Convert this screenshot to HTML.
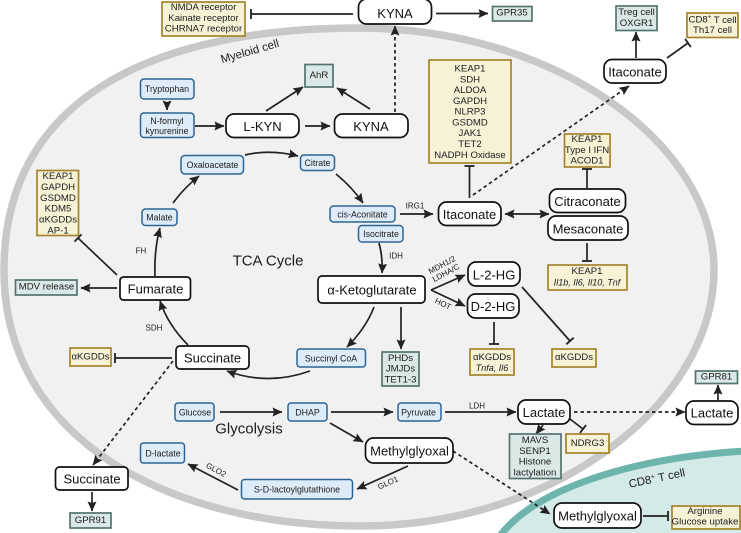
<!DOCTYPE html>
<html><head><meta charset="utf-8">
<style>
html,body{margin:0;padding:0;background:#fff}
svg{display:block}
text{font-family:"Liberation Sans",sans-serif;text-anchor:middle;dominant-baseline:central;fill:#1c1c1c}
.b{fill:#deebf8;stroke:#2b6596;stroke-width:1.5}
.y{fill:#f6f2d6;stroke:#a5842d;stroke-width:1.7}
.t{fill:#dbe9e6;stroke:#55736e;stroke-width:1.7}
.w{fill:#fff;stroke:#111;stroke-width:1.7}
.s9{font-size:8.8px}.s10{font-size:9.6px}.s8{font-size:8px}.s13{font-size:13px;fill:#111}
.l{fill:none;stroke:#222;stroke-width:1.7}
.a{marker-end:url(#ar)}.i{marker-end:url(#br)}
.d{stroke-dasharray:3.5 3}
</style></head><body>
<svg width="741" height="533" viewBox="0 0 741 533" xmlns="http://www.w3.org/2000/svg">
<defs>
<marker id="ar" markerUnits="userSpaceOnUse" markerWidth="12" markerHeight="12" refX="9.500" refY="6" orient="auto-start-reverse"><path d="M0 1.500L10 6L0 10.500L1.500 6Z" fill="#222"/></marker>
<marker id="br" markerUnits="userSpaceOnUse" markerWidth="4" markerHeight="12" refX="2" refY="6" orient="auto"><path d="M2 1V11" stroke="#222" stroke-width="1.8"/></marker>
</defs>

<path d="M4 270C4 100 150 28 360 28C550 28 714 140 714 270C714 400 560 526 360 526C170 526 4 440 4 270Z" fill="#f1f1f1" stroke="#c8c8c8" stroke-width="7.500"/>
<path d="M497 540C530 490 630 458 745 451L745 540Z" fill="#d4eae8" stroke="#6cb4ac" stroke-width="7"/>

<text x="250" y="52" transform="rotate(-16 250 52)" style="font-size:11.5px">Myeloid cell</text>
<text x="268" y="261" style="font-size:15px">TCA Cycle</text>
<text x="249" y="429" style="font-size:15px">Glycolysis</text>
<text x="657" y="479" style="font-size:11.5px" transform="rotate(-12 657 479)">CD8<tspan dy="-3" style="font-size:7px">+</tspan><tspan dy="3"> T cell</tspan></text>

<!-- connectors -->
<path class="l i" d="M353 14H251"/>
<path class="l a" d="M436 13.500H488"/>
<path class="l a d" d="M395 112V26"/>
<path class="l a" d="M636 58V32"/>
<path class="l i" d="M667 58L688 43"/>
<path class="l a d" d="M473 195L629 86"/>
<path class="l i" d="M469.500 198V166"/>
<path class="l a" d="M400 214H433"/>
<path class="l a" d="M379 243Q383 258 382 273"/>
<path class="l a" d="M431 290L465 275"/>
<path class="l a" d="M431 290L465 306"/>
<path class="l i" d="M494 322V344"/>
<path class="l i" d="M522 287L570 341"/>
<path class="l a" d="M401 307V349"/>
<path class="l a" d="M374 307Q366 328 347 347"/>
<path class="l a" d="M310 371Q268 386 227 371"/>
<path class="l a" d="M188 345Q168 325 160 301"/>
<path class="l a" d="M117 288H81"/>
<path class="l i" d="M117 275L78 238"/>
<path class="l a" d="M155 276Q154 250 160 228"/>
<path class="l a" d="M173 203Q184 188 199 176"/>
<path class="l a" d="M245 155Q270 149 298 156"/>
<path class="l a" d="M336 174Q352 187 363 203"/>
<path class="l a" d="M167 102V110"/>
<path class="l a" d="M195 126H224"/>
<path class="l a" d="M305 126H330"/>
<path class="l a" d="M266 111L303 87"/>
<path class="l a" d="M370 109L337 88"/>
<path class="l i" d="M587 188V169"/>
<path d="M505 214H549" class="l" marker-start="url(#ar)" marker-end="url(#ar)"/>
<path class="l i" d="M587 243V261"/>
<path class="l a" d="M220 412H282"/>
<path class="l a" d="M331 412H393"/>
<path class="l a" d="M445 412H516"/>
<path class="l a d" d="M574 412H685"/>
<path class="l a" d="M718 400V385"/>
<path class="l a" d="M543 425L536 434"/>
<path class="l i" d="M570 419L583 429"/>
<path class="l a" d="M330 423L363 442"/>
<path class="l a d" d="M453 451L550 514"/>
<path class="l i" d="M643 516H668"/>
<path class="l a" d="M408 466L357 489"/>
<path class="l a" d="M238 490L188 464"/>
<path class="l a d" d="M173 361L93 465"/>
<path class="l a" d="M92 492V511"/>
<path class="l i" d="M172 358H115"/>

<!-- yellow boxes -->
<rect class="y" x="162" y="2" width="83" height="34"/>
<text class="s10" x="203.500" y="7.500">NMDA receptor</text><text class="s10" x="203.500" y="18.500">Kainate receptor</text><text class="s10" x="203.500" y="29">CHRNA7 receptor</text>
<rect class="y" x="687" y="13" width="51" height="24.500"/>
<text class="s10" x="712.500" y="20">CD8<tspan dy="-2.500" style="font-size:6px">+</tspan><tspan dy="2.500"> T cell</tspan></text><text class="s10" x="712.500" y="30.500">Th17 cell</text>
<rect class="y" x="429" y="60" width="82" height="103"/>
<text class="s10" x="470" y="69">KEAP1</text><text class="s10" x="470" y="80">SDH</text><text class="s10" x="470" y="90.500">ALDOA</text><text class="s10" x="470" y="101.500">GAPDH</text><text class="s10" x="470" y="112">NLRP3</text><text class="s10" x="470" y="123">GSDMD</text><text class="s10" x="470" y="133.500">JAK1</text><text class="s10" x="470" y="144.500">TET2</text><text class="s10" x="470" y="155.500">NADPH Oxidase</text>
<rect class="y" x="37" y="170.500" width="41.500" height="65"/>
<text class="s10" x="58" y="176.500">KEAP1</text><text class="s10" x="58" y="187.500">GAPDH</text><text class="s10" x="58" y="198.500">GSDMD</text><text class="s10" x="58" y="209">KDM5</text><text class="s10" x="58" y="220">αKGDDs</text><text class="s10" x="58" y="231">AP-1</text>
<rect class="y" x="564.500" y="134" width="45.500" height="33"/>
<text class="s10" x="587" y="139.500">KEAP1</text><text class="s10" x="587" y="150.500">Type I IFN</text><text class="s10" x="587" y="161">ACOD1</text>
<rect class="y" x="548" y="265" width="79" height="25"/>
<text class="s10" x="587" y="271.500">KEAP1</text><text class="s10" x="587" y="282.500" style="font-style:italic;font-size:9px">Il1b, Il6, Il10, Tnf</text>
<rect class="y" x="470" y="349" width="44" height="26"/>
<text class="s10" x="492" y="357.500">αKGDDs</text><text class="s10" x="492" y="368" style="font-style:italic;font-size:9px">Tnfa, Il6</text>
<rect class="y" x="552" y="349" width="44" height="18"/><text class="s10" x="574" y="357.500">αKGDDs</text>
<rect class="y" x="70" y="348" width="41" height="18"/><text class="s10" x="90.500" y="357">αKGDDs</text>
<rect class="y" x="566" y="434" width="43" height="19"/><text class="s10" x="587.500" y="443.500">NDRG3</text>
<rect class="y" x="672" y="506" width="68" height="23"/>
<text class="s10" x="705" y="511.500">Arginine</text><text class="s10" x="705" y="522">Glucose uptake</text>

<!-- teal boxes -->
<rect class="t" x="492.500" y="6.500" width="39.500" height="14.500"/><text class="s10" x="512" y="13">GPR35</text>
<rect class="t" x="616" y="6" width="41" height="24.500"/><text class="s10" x="636.500" y="12.500">Treg cell</text><text class="s10" x="636.500" y="23.500">OXGR1</text>
<rect class="t" x="305" y="64.500" width="28" height="22.500"/><text class="s10" x="319" y="75.500">AhR</text>
<rect class="t" x="382" y="352" width="37" height="34"/><text class="s10" x="400.500" y="358.500">PHDs</text><text class="s10" x="400.500" y="369">JMJDs</text><text class="s10" x="400.500" y="380">TET1-3</text>
<rect class="t" x="15.500" y="280" width="61.500" height="15"/><text class="s10" x="46.500" y="287">MDV release</text>
<rect class="t" x="509.500" y="434" width="51.500" height="44.500"/><text class="s10" x="535" y="440.500">MAVS</text><text class="s10" x="535" y="451.500">SENP1</text><text class="s10" x="535" y="462">Histone</text><text class="s10" x="535" y="473">lactylation</text>
<rect class="t" x="695.500" y="371" width="42" height="12.500"/><text class="s10" x="716.500" y="377">GPR81</text>
<rect class="t" x="70" y="513" width="41" height="15"/><text class="s10" x="90.500" y="520.500">GPR91</text>

<!-- blue boxes -->
<rect class="b" x="140.500" y="79" width="53.500" height="20" rx="3.500"/><text class="s9" x="167" y="89">Tryptophan</text>
<rect class="b" x="140.500" y="113" width="53.500" height="24.500" rx="3.500"/><text class="s9" x="167" y="121">N-formyl</text><text class="s9" x="167" y="131">kynurenine</text>
<rect class="b" x="181" y="155.500" width="62.500" height="18.500" rx="4"/><text class="s9" x="212.500" y="165">Oxaloacetate</text>
<rect class="b" x="300.500" y="155" width="34" height="15.500" rx="3.500"/><text class="s9" x="317.500" y="163">Citrate</text>
<rect class="b" x="142" y="209" width="35" height="16.500" rx="3.500"/><text class="s9" x="159.500" y="217.500">Malate</text>
<rect class="b" x="330" y="206" width="65" height="16" rx="3.500"/><text class="s9" x="362.500" y="214.500">cis-Aconitate</text>
<rect class="b" x="358.500" y="225.500" width="44.500" height="16.500" rx="3.500"/><text class="s9" x="381" y="234">Isocitrate</text>
<rect class="b" x="297" y="349" width="68.500" height="18" rx="3"/><text class="s9" x="331" y="358.500">Succinyl CoA</text>
<rect class="b" x="175" y="403" width="39" height="18" rx="3"/><text class="s9" x="195" y="412.500">Glucose</text>
<rect class="b" x="288" y="403" width="39" height="18" rx="3"/><text class="s9" x="307.500" y="412.500">DHAP</text>
<rect class="b" x="398" y="403" width="43" height="18" rx="3"/><text class="s9" x="418.500" y="412.500">Pyruvate</text>
<rect class="b" x="140.500" y="443" width="44" height="20" rx="3"/><text class="s9" x="163" y="453.500">D-lactate</text>
<rect class="b" x="241.500" y="479.500" width="111" height="19.500" rx="3"/><text class="s9" x="297" y="489.500">S-D-lactoylglutathione</text>

<!-- white nodes -->
<rect class="w" x="358.500" y="-1" width="73" height="25" rx="8"/><text class="s13" x="395" y="13.500">KYNA</text>
<rect class="w" x="604" y="59.500" width="62" height="23.500" rx="8"/><text class="s13" x="635" y="72">Itaconate</text>
<rect class="w" x="226" y="114" width="73" height="23.500" rx="8"/><text class="s13" x="262.500" y="126.500">L-KYN</text>
<rect class="w" x="334.500" y="114" width="73.500" height="23.500" rx="8"/><text class="s13" x="371" y="126.500">KYNA</text>
<rect class="w" x="438.500" y="202" width="62.500" height="23.500" rx="8"/><text class="s13" x="469.500" y="214.500">Itaconate</text>
<rect class="w" x="549.500" y="189" width="76" height="23.500" rx="8"/><text class="s13" x="587.500" y="201.500">Citraconate</text>
<rect class="w" x="548" y="216" width="80" height="24" rx="8"/><text class="s13" x="588" y="229">Mesaconate</text>
<rect class="w" x="318" y="276" width="107" height="27" rx="4"/><text class="s13" x="372" y="290">α-Ketoglutarate</text>
<rect class="w" x="468" y="262" width="52" height="24" rx="8"/><text class="s13" x="494" y="275">L-2-HG</text>
<rect class="w" x="467.500" y="294" width="51.500" height="24" rx="8"/><text class="s13" x="493" y="306.500">D-2-HG</text>
<rect class="w" x="120" y="277" width="70.500" height="23" rx="3.500"/><text class="s13" x="155.500" y="289">Fumarate</text>
<rect class="w" x="176" y="346" width="73" height="23" rx="4"/><text class="s13" x="212.500" y="358">Succinate</text>
<rect class="w" x="518" y="400" width="52" height="24" rx="8"/><text class="s13" x="544" y="412.500">Lactate</text>
<rect class="w" x="686" y="401" width="52" height="23.500" rx="8"/><text class="s13" x="712" y="413">Lactate</text>
<rect class="w" x="365.500" y="438" width="87.500" height="25" rx="8"/><text class="s13" x="409.500" y="451">Methylglyoxal</text>
<rect class="w" x="554" y="503" width="87" height="25" rx="8"/><text class="s13" x="597.500" y="516">Methylglyoxal</text>
<rect class="w" x="55.500" y="467" width="72.500" height="23" rx="4"/><text class="s13" x="92" y="479">Succinate</text>

<!-- small labels -->
<text class="s8" x="415" y="206">IRG1</text>
<text class="s8" x="396" y="256">IDH</text>
<text class="s8" x="141" y="251">FH</text>
<text class="s8" x="154" y="328">SDH</text>
<text class="s8" x="477" y="406">LDH</text>
<text class="s8" x="442" y="265" transform="rotate(-28 442 265)">MDH1/2</text>
<text class="s8" x="446" y="273" transform="rotate(-28 446 273)">LDHA/C</text>
<text class="s8" x="443" y="304" transform="rotate(25 443 304)">HOT</text>
<text class="s8" x="388" y="483" transform="rotate(-24 388 483)">GLO1</text>
<text class="s8" x="216" y="470" transform="rotate(28 216 470)">GLO2</text>
</svg>
</body></html>
